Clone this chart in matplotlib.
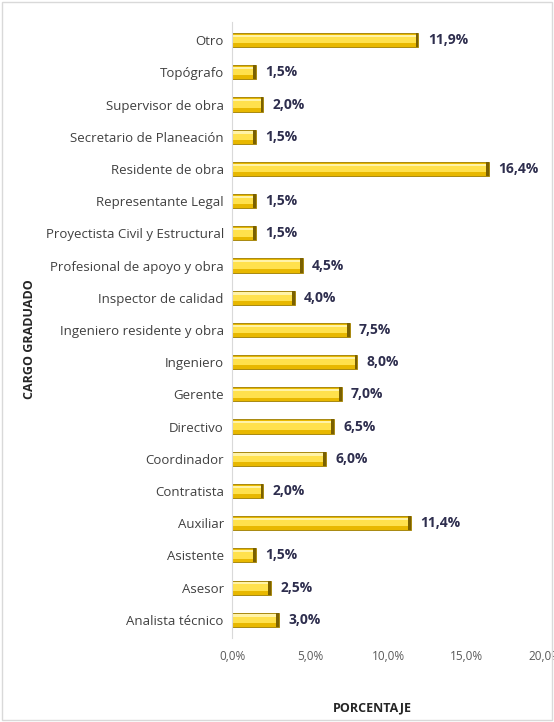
import numpy as np
import matplotlib.pyplot as plt
from matplotlib.ticker import FuncFormatter
from matplotlib.patches import Rectangle

cargos = ["Analista técnico", "Asesor", "Asistente", "Auxiliar", "Contratista",
          "Coordinador", "Directivo", "Gerente", "Ingeniero",
          "Ingeniero residente y obra", "Inspector de calidad",
          "Profesional de apoyo y obra", "Proyectista Civil y Estructural",
          "Representante Legal", "Residente de obra", "Secretario de Planeación",
          "Supervisor de obra", "Topógrafo", "Otro"]
porcentaje = [3.0, 2.5, 1.5, 11.4, 2.0, 6.0, 6.5, 7.0, 8.0, 7.5, 4.0, 4.5,
              1.5, 1.5, 16.4, 1.5, 2.0, 1.5, 11.9]
xticks = [0, 5, 10, 15, 20]

plt.rcParams['font.family'] = ['Open Sans', 'DejaVu Sans']

fig = plt.figure(figsize=(5.54, 7.22), dpi=100)
fig.patches.append(Rectangle((0.003, 0.003), 0.994, 0.994, transform=fig.transFigure,
                             fill=False, edgecolor='#D9D9D9', lw=1))
ax = fig.add_axes([0.419, 0.117, 0.565, 0.852])

y = np.arange(len(cargos))
h = 0.44
# bevelled gold look: base + highlight + dark end cap
ax.barh(y, porcentaje, height=h, color='#E8B800', edgecolor='#9C7C00', linewidth=0.6)
ax.barh(y, porcentaje, height=h * 0.45, color='#FFE14D', linewidth=0)
ax.barh(y + h * 0.3, porcentaje, height=h * 0.15, color='#FFF3A8', linewidth=0)
ends = np.array(porcentaje)
ax.barh(y, np.full(len(ends), 0.18), left=ends - 0.18, height=h,
        color='#7A6000', linewidth=0)

for yi, v in zip(y, porcentaje):
    ax.text(v + 0.6, yi, f"{v:.1f}%".replace('.', ','), va='center', ha='left',
            fontsize=10, fontweight='bold', color='#2E2E4E')

ax.set_yticks(y)
ax.set_yticklabels(cargos, fontsize=9.5, color='#404040')
ax.set_xticks(xticks)
ax.xaxis.set_major_formatter(FuncFormatter(lambda v, p: f"{v:.1f}%".replace('.', ',')))
ax.tick_params(axis='x', labelsize=8.5, labelcolor='#595959', length=0, pad=9)
ax.tick_params(axis='y', length=0, pad=6)
ax.set_xlim(0, 20)
ax.set_ylim(-0.55, len(cargos) - 0.45)
for s in ['top', 'right', 'bottom']:
    ax.spines[s].set_visible(False)
ax.spines['left'].set_color('#D9D9D9')

fig.text(0.672, 0.01, "PORCENTAJE", ha='center', va='bottom', fontsize=9,
         fontweight='bold', color='#262626')
fig.text(0.054, 0.53, "CARGO GRADUADO", ha='center', va='center', rotation=90,
         fontsize=9, fontweight='bold', color='#262626')

fig.savefig("out.png", dpi=100)
